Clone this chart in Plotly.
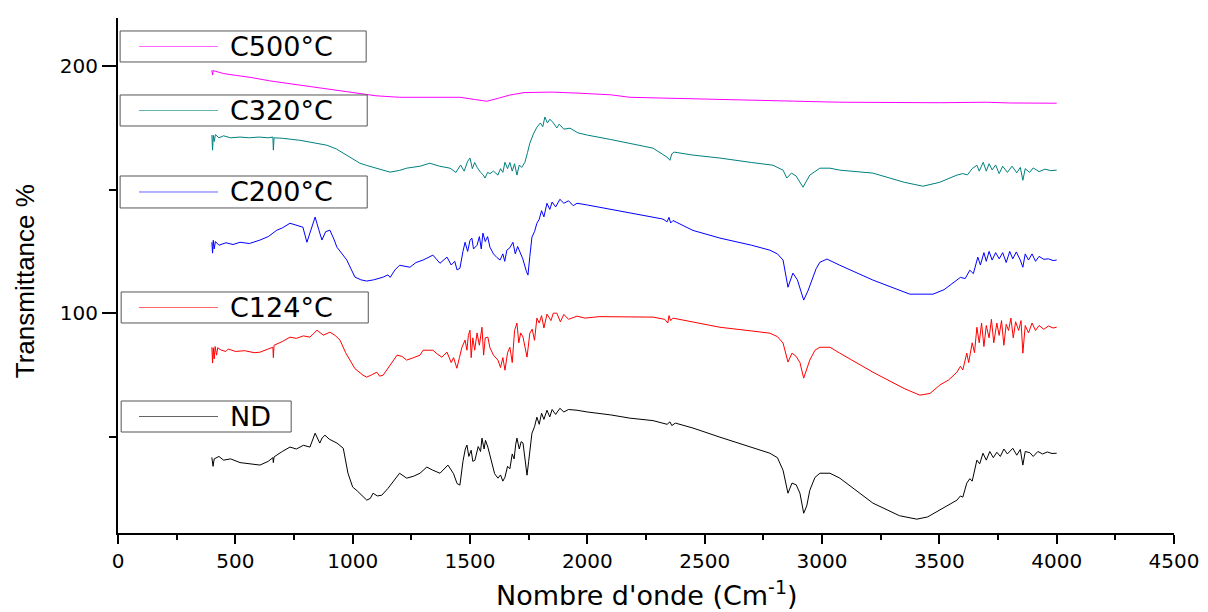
import plotly.graph_objects as go

# ---------------- data ----------------
nd_x = [400,405,410,430,450,480,520,560,605,640,660,662,665,700,733,760,790,818,840,860,870,882,900,933,960,980,1000,1020,1045,1060,1075,1087,1105,1124,1150,1175,1200,1230,1260,1287,1316,1340,1372,1406,1430,1445,1457,1470,1480,1487,1495,1505,1512,1521,1535,1545,1551,1560,1566,1576,1590,1605,1619,1630,1640,1649,1660,1670,1680,1688,1695,1700,1710,1718,1726,1735,1743,1750,1764,1775,1785,1795,1805,1815,1828,1840,1850,1865,1883,1900,1920,1956,2000,2100,2181,2280,2340,2352,2360,2375,2450,2565,2700,2778,2810,2834,2855,2872,2890,2906,2922,2935,2948,2970,2991,3034,3076,3217,3330,3404,3450,3502,3575,3590,3600,3617,3630,3640,3650,3660,3672,3686,3700,3715,3730,3745,3760,3775,3790,3813,3830,3845,3856,3866,3886,3900,3920,3940,3960,3980,4000]
nd_y = [41.6,38.0,41.0,42.0,40.5,41.0,39.5,39.0,38.5,40.0,41.5,39.5,41.8,44.0,45.8,45.0,46.5,45.8,51.4,47.4,49.5,50.6,49.0,47.4,45.3,35.2,29.6,28.0,25.5,24.3,25.0,27.1,26.0,26.3,29.0,32.0,35.2,33.2,34.0,35.2,37.7,36.5,35.2,38.5,35.0,31.0,30.4,40.0,45.0,46.6,42.0,44.5,40.0,40.5,46.0,44.0,49.4,45.0,48.5,45.8,40.0,35.0,33.2,34.5,32.0,33.6,38.0,37.0,43.0,41.0,47.0,49.4,45.0,48.0,47.4,40.0,34.4,40.0,51.4,54.0,57.9,55.0,59.5,57.0,60.7,58.0,61.0,59.0,61.5,60.0,61.0,60.7,60.0,58.8,57.5,56.5,55.0,56.0,54.5,55.5,53.5,49.8,45.5,43.3,41.5,36.4,27.1,31.2,30.5,27.1,19.0,22.0,28.3,33.5,35.2,35.2,33.2,23.1,18.0,16.6,17.5,20.2,24.3,26.0,25.5,31.2,33.0,32.0,37.0,40.5,39.0,43.3,40.5,44.0,41.5,43.7,42.0,45.0,43.0,45.3,42.5,44.8,38.5,44.0,43.5,42.0,44.0,43.0,43.8,43.2,43.3]

c124_x = [400,403,406,410,414,420,425,440,460,470,500,540,580,605,640,660,662,665,700,733,760,790,818,848,875,903,925,946,970,988,1010,1044,1060,1080,1103,1115,1130,1160,1189,1210,1230,1260,1287,1300,1342,1360,1380,1402,1420,1430,1444,1455,1465,1479,1487,1493,1500,1505,1512,1520,1530,1540,1551,1558,1565,1576,1585,1600,1619,1630,1640,1649,1660,1670,1680,1690,1700,1708,1716,1726,1735,1743,1755,1765,1775,1785,1795,1805,1815,1828,1845,1855,1870,1885,1900,1920,1956,1990,2050,2181,2280,2330,2343,2348,2355,2365,2450,2565,2700,2778,2810,2834,2855,2872,2890,2906,2922,2935,2948,2970,2991,3034,3076,3217,3350,3417,3460,3502,3540,3575,3590,3600,3617,3625,3640,3650,3660,3670,3680,3690,3700,3712,3722,3732,3745,3755,3765,3775,3785,3795,3805,3815,3825,3838,3848,3856,3866,3880,3895,3910,3925,3945,3965,3985,4000]
c124_y = [86.2,79.8,86.0,81.5,86.5,83.0,86.0,85.0,84.5,85.5,84.5,84.8,84.0,84.2,85.5,86.2,82.0,87.0,88.5,90.3,89.8,90.8,90.3,93.1,91.1,92.3,91.0,89.1,84.0,81.0,77.5,74.9,74.1,75.0,76.1,74.5,74.9,79.0,83.0,82.5,81.0,82.0,83.0,85.0,85.0,83.5,82.2,84.2,80.0,82.0,77.7,82.0,86.0,89.1,85.0,91.0,93.1,82.0,90.0,85.0,92.0,87.0,94.3,83.0,90.0,90.3,86.0,83.0,81.0,78.0,82.0,76.9,84.0,86.2,80.0,93.0,96.0,88.0,92.0,90.3,85.0,82.2,91.9,93.5,89.0,98.0,96.0,99.0,94.0,99.6,97.0,100.0,100.0,96.5,99.5,97.5,98.8,98.0,98.6,98.4,98.4,97.5,96.0,99.0,97.0,98.0,96.5,94.3,92.8,91.9,90.5,87.9,80.2,83.8,82.5,80.0,73.7,77.0,81.0,85.0,86.2,86.2,83.8,76.1,69.5,66.8,67.5,70.9,73.0,76.1,78.5,77.0,83.8,80.0,88.0,84.0,94.3,88.0,96.0,86.5,95.0,90.0,97.5,88.0,96.0,91.0,97.0,87.0,95.5,93.0,98.0,90.0,96.5,93.0,97.0,83.8,95.0,92.0,96.0,93.0,95.0,93.5,94.8,94.0,94.3]

c200_x = [400,403,406,410,415,430,460,490,520,560,605,640,677,700,733,760,788,805,820,840,855,869,885,903,920,933,955,975,995,1010,1035,1060,1090,1130,1150,1160,1180,1200,1244,1270,1300,1342,1372,1402,1420,1435,1445,1457,1470,1479,1490,1500,1508,1515,1530,1540,1548,1555,1565,1575,1585,1600,1615,1628,1640,1648,1657,1670,1683,1693,1703,1713,1725,1740,1747,1755,1764,1775,1785,1795,1805,1815,1828,1840,1850,1865,1883,1900,1920,1940,1956,2000,2100,2181,2280,2322,2340,2348,2355,2365,2450,2565,2700,2778,2810,2834,2855,2876,2895,2922,2940,2957,2975,2991,3021,3076,3217,3374,3473,3520,3558,3590,3610,3630,3645,3664,3675,3690,3700,3712,3725,3740,3755,3770,3785,3800,3813,3828,3845,3856,3866,3880,3895,3910,3925,3945,3965,3985,4000]
c200_y = [128.7,124.3,129.5,126.0,129.0,127.5,128.5,127.8,128.7,128.2,129.6,131.0,133.6,134.5,136.4,135.5,134.8,128.7,133.0,138.9,134.0,129.6,133.0,133.6,130.0,126.7,124.0,121.5,117.5,114.6,113.5,113.0,113.5,114.6,115.5,114.5,117.5,119.4,118.6,120.5,121.5,123.5,120.2,122.7,119.5,121.0,117.5,118.2,125.0,128.7,125.0,129.5,130.4,126.0,127.5,131.0,126.0,132.4,129.0,131.0,126.7,124.0,122.5,121.5,124.0,121.0,125.5,126.5,128.7,124.0,127.0,124.7,122.0,117.0,115.4,123.0,130.8,133.0,136.4,138.0,141.5,139.0,144.5,142.0,145.0,143.0,146.1,144.5,145.5,143.5,144.5,143.8,142.0,140.5,139.0,138.1,137.0,138.8,136.5,137.5,133.5,130.4,127.5,125.5,124.0,121.5,110.5,116.2,113.5,105.3,109.0,113.4,118.0,120.6,121.9,119.4,113.4,107.7,107.7,109.5,112.1,114.5,114.0,117.4,116.0,122.7,119.5,124.5,121.0,125.0,121.5,124.5,122.0,124.5,120.5,125.0,122.0,124.8,121.5,118.6,124.0,121.5,124.0,121.0,123.0,121.8,122.0,121.3,121.5]

c320_x = [400,403,406,410,415,430,450,480,520,560,600,640,660,662,665,700,775,830,890,930,960,1000,1031,1060,1087,1120,1159,1200,1230,1287,1329,1370,1415,1440,1460,1475,1490,1500,1510,1520,1530,1545,1556,1564,1575,1585,1600,1619,1630,1640,1649,1660,1670,1680,1690,1700,1710,1720,1734,1745,1755,1770,1785,1800,1810,1819,1830,1840,1853,1870,1880,1900,1926,1960,2000,2100,2181,2280,2339,2352,2360,2370,2450,2565,2700,2791,2834,2850,2870,2890,2919,2935,2948,2991,3034,3076,3217,3350,3430,3502,3575,3600,3620,3640,3660,3670,3687,3700,3712,3725,3740,3755,3770,3790,3810,3830,3845,3856,3866,3885,3900,3925,3950,3975,4000]
c320_y = [172.1,166.0,172.0,169.5,172.3,171.0,171.8,171.0,171.3,171.0,171.3,171.0,171.3,166.0,171.0,170.8,170.0,169.0,168.0,166.5,164.8,162.5,160.7,159.8,159.1,158.0,157.1,157.8,158.7,159.5,160.7,159.5,158.7,157.0,160.0,157.5,161.5,162.8,158.5,161.0,159.1,157.0,156.0,154.7,157.0,156.5,157.5,155.9,158.5,157.0,161.1,158.5,161.0,157.5,160.5,155.9,160.0,159.0,161.1,165.0,168.8,172.5,175.3,177.0,175.5,179.4,177.0,178.5,177.3,175.0,176.5,174.5,174.9,173.0,172.1,170.3,168.8,166.8,163.2,161.9,164.5,165.2,164.0,162.8,161.0,159.9,157.9,154.7,156.7,155.5,151.0,153.5,155.9,158.7,158.7,157.9,156.7,153.0,151.4,153.0,155.9,156.5,156.0,158.5,159.9,157.5,161.1,157.5,160.5,158.0,160.0,156.5,159.5,157.0,159.5,156.8,159.0,153.8,158.5,157.0,158.8,157.3,158.3,157.7,157.9]

c500_x = [400,403,406,450,500,562,650,775,900,1000,1100,1200,1300,1400,1457,1520,1572,1620,1670,1730,1785,1850,1956,2100,2181,2500,2800,3076,3500,3700,3800,4000]
c500_y = [198.4,196.4,198.2,197.0,196.3,195.5,194.0,192.3,190.5,189.1,188.0,187.4,187.3,187.5,187.4,186.5,185.8,187.0,188.3,189.3,189.5,189.5,189.1,188.4,187.4,186.6,186.0,185.4,185.2,185.4,185.1,185.0]

series_names = ["C500°C", "C320°C", "C200°C", "C124°C", "ND"]
x_tick_vals = [0, 500, 1000, 1500, 2000, 2500, 3000, 3500, 4000, 4500]
y_tick_vals = [100, 200]

# ---------------- figure ----------------
colors = ["#FF00FF", "#008080", "#0000FF", "#FF0000", "#000000"]
xs = [c500_x, c320_x, c200_x, c124_x, nd_x]
ys = [c500_y, c320_y, c200_y, c124_y, nd_y]

fig = go.Figure()
for name, x, y, c in zip(series_names, xs, ys, colors):
    fig.add_trace(go.Scatter(x=x, y=y, mode="lines", name=name,
                             line=dict(color=c, width=1), showlegend=False))

FONT = "Liberation Sans, Arial, sans-serif"
WIDE = "DejaVu Sans, Liberation Sans, sans-serif"

# Individual legend boxes (paper coordinates)
boxes = [  # x0, x1, y0, y1
    (0.002, 0.235, 0.9146, 0.9748),
    (0.002, 0.236, 0.7903, 0.8505),
    (0.002, 0.236, 0.6311, 0.6932),
    (0.003, 0.237, 0.4078, 0.4680),
    (0.003, 0.164, 0.1961, 0.2563),
]
shapes = []
annotations = []
for (x0, x1, y0, y1), name, c in zip(boxes, series_names, colors):
    shapes.append(dict(type="rect", xref="paper", yref="paper", x0=x0, x1=x1, y0=y0, y1=y1,
                       line=dict(color="#555555", width=1), fillcolor="white", layer="above"))
    ym = (y0 + y1) / 2
    shapes.append(dict(type="line", xref="paper", yref="paper", x0=0.0199, x1=0.0947, y0=ym, y1=ym,
                       line=dict(color=c, width=1), opacity=0.6, layer="above"))
    annotations.append(dict(text=name, xref="paper", yref="paper", x=0.104, y=ym,
                            xanchor="left", yanchor="middle", showarrow=False,
                            font=dict(family=WIDE, size=27, color="black")))

annotations.append(dict(text="Transmittance %", xref="paper", yref="paper", x=-0.088, y=0.489,
                        textangle=-90, xanchor="center", yanchor="middle", showarrow=False,
                        font=dict(family=FONT, size=26, color="black")))
annotations.append(dict(text="Nombre d'onde (Cm<sup>-1</sup>)", xref="paper", yref="paper",
                        x=0.5, y=-0.118, xanchor="center", yanchor="middle", showarrow=False,
                        font=dict(family=WIDE, size=27, color="black")))

fig.update_layout(
    width=1200, height=604,
    margin=dict(l=110, r=34, t=10, b=79),
    paper_bgcolor="white", plot_bgcolor="white",
    shapes=shapes, annotations=annotations,
    font=dict(family=FONT, color="black"),
)
fig.update_xaxes(range=[0, 4500], tickmode="array", tickvals=x_tick_vals,
                 ticktext=[str(v) for v in x_tick_vals],
                 showgrid=False, zeroline=False, showline=True, linecolor="black", linewidth=2,
                 ticks="outside", ticklen=9, tickwidth=2, tickcolor="black",
                 minor=dict(tickvals=[250, 750, 1250, 1750, 2250, 2750, 3250, 3750, 4250],
                            ticks="outside", ticklen=5, tickwidth=2, tickcolor="black", showgrid=False),
                 tickfont=dict(family=WIDE, size=20, color="black"))
fig.update_yaxes(range=[11, 219.5], tickmode="array", tickvals=y_tick_vals,
                 ticktext=[str(v) for v in y_tick_vals],
                 showgrid=False, zeroline=False, showline=True, linecolor="black", linewidth=2,
                 ticks="outside", ticklen=14, tickwidth=2, tickcolor="black",
                 minor=dict(tickvals=[50, 150], ticks="outside", ticklen=7, tickwidth=2,
                            tickcolor="black", showgrid=False),
                 tickfont=dict(family=WIDE, size=20, color="black"))

fig.write_html("out.html")
